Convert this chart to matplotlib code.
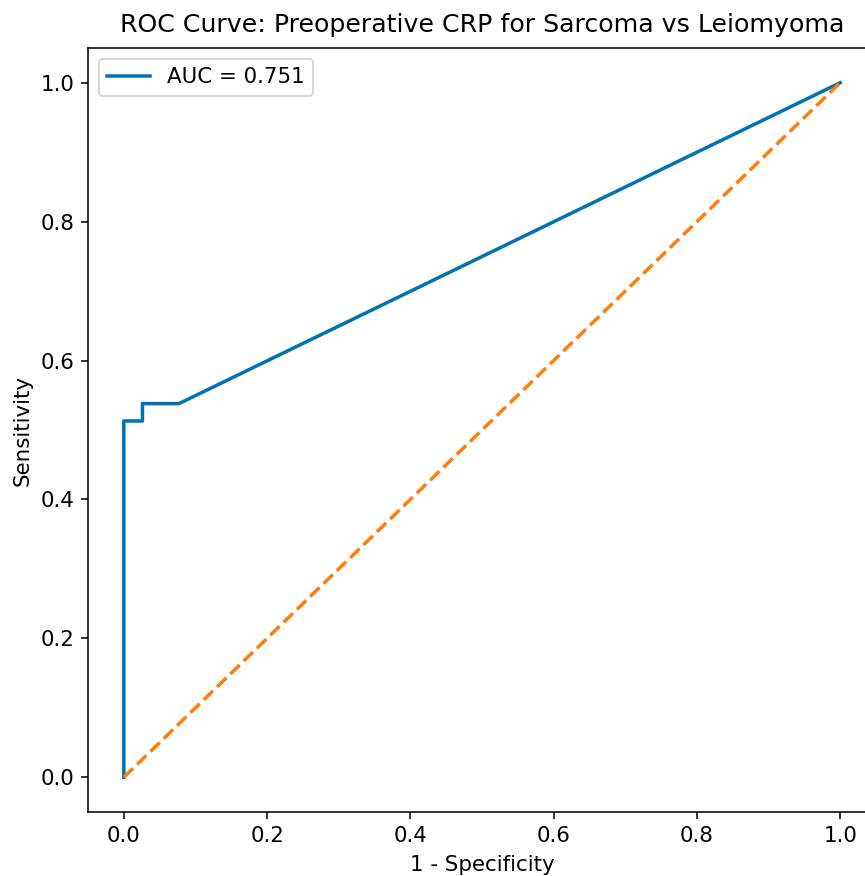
import matplotlib
matplotlib.use("Agg")
import matplotlib.pyplot as plt

# ROC points
fpr = [0.0, 0.0, 0.026, 0.026, 0.077, 1.0]
tpr = [0.0, 0.513, 0.513, 0.538, 0.538, 1.0]
auc_value = 0.751
chance = [0.0, 1.0]

title = "ROC Curve: Preoperative CRP for Sarcoma vs Leiomyoma"
xticks = [0.0, 0.2, 0.4, 0.6, 0.8, 1.0]
yticks = [0.0, 0.2, 0.4, 0.6, 0.8, 1.0]

plt.rcParams.update({
    "font.size": 11,
    "axes.titlesize": 13,
    "axes.labelsize": 11,
    "xtick.labelsize": 11,
    "ytick.labelsize": 11,
    "legend.fontsize": 11,
})

dpi = 140
W, H = 865, 876
fig = plt.figure(figsize=(W / dpi, H / dpi), dpi=dpi)
# axes run past the right edge, as in the cropped reference
ax = fig.add_axes([88 / W, (H - 812) / H, 788 / W, 764 / H])

ax.plot(fpr, tpr, color="#0173b2", lw=1.8, label=f"AUC = {auc_value:.3f}")
ax.plot(chance, chance, color="#ff7f0e", lw=1.8, linestyle="--")

ax.set_xlim(-0.05, 1.05)
ax.set_ylim(-0.05, 1.05)
ax.set_xticks(xticks)
ax.set_yticks(yticks)
ax.set_xlabel("1 - Specificity", labelpad=5)
ax.set_ylabel("Sensitivity")
ax.set_title(title, pad=8)
ax.legend(loc="upper left")

fig.savefig("out.png", dpi=dpi)
plt.close(fig)
